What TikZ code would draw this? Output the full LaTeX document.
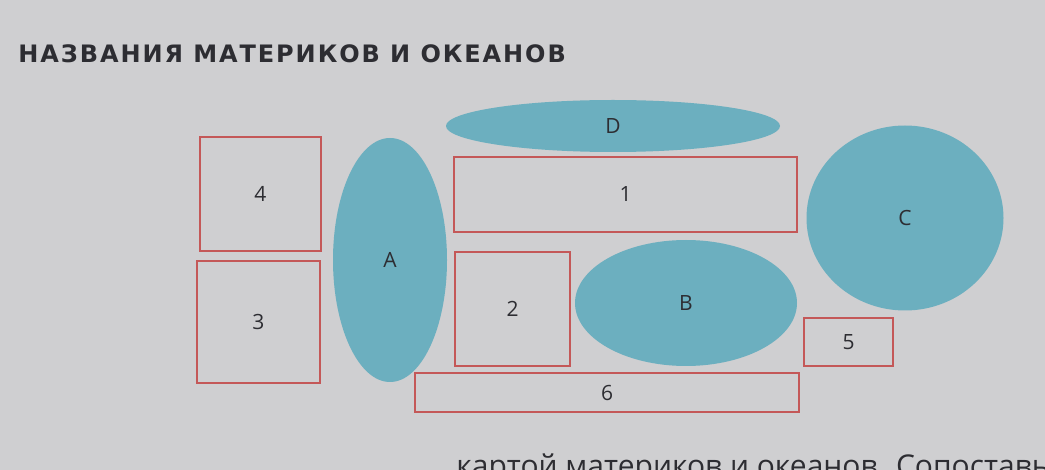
\documentclass[tikz,border=0pt]{standalone}
\usepackage{fontspec}
\setmainfont{Open Sans}
\newfontfamily\headfont[LetterSpace=8]{DejaVu Sans}
\usepackage{xcolor}
\usetikzlibrary{shapes.geometric}
\definecolor{paperGray}{RGB}{207,207,209}
\definecolor{seaBlue}{RGB}{108,175,191}
\definecolor{landRed}{RGB}{196,88,88}
\definecolor{inkText}{RGB}{45,45,50}

\begin{document}
\begin{tikzpicture}[x=0.5pt,y=-0.5pt,
    land/.style={draw=landRed,line width=0.6pt,inner sep=0pt,font=\fontsize{10.5}{12}\selectfont,text=inkText},
    sea/.style={ellipse,fill=seaBlue,inner sep=0pt,font=\fontsize{10.5}{12}\selectfont,text=inkText}]
  \newcommand{\landbox}[6]{%
    \node[land,minimum width=#4*0.5pt,minimum height=#5*0.5pt] (#1) at (#2,#3) {#6};}
  \newcommand{\seablob}[6]{%
    \node[sea,minimum width=#4*0.5pt,minimum height=#5*0.5pt] (#1) at (#2,#3) {#6};}
  % page
  \fill[paperGray] (0,0) rectangle (1045,470);
  \useasboundingbox (0,0) rectangle (1045,470);
  \clip (0,0) rectangle (1045,470);
  \node[anchor=base west,inner sep=0pt,text=inkText,font=\headfont\bfseries\fontsize{12}{14}\selectfont]
    (title) at (18,63) {НАЗВАНИЯ МАТЕРИКОВ И ОКЕАНОВ};
  % oceans
  \seablob{oceanA}{390}{260}{114}{244}{A}
  \seablob{oceanD}{613}{126}{334}{52}{D}
  \seablob{oceanB}{686}{303}{222}{126}{B}
  \seablob{oceanC}{905}{218}{197}{185}{C}
  % continents
  \landbox{land4}{260.5}{194}{121}{114}{4}
  \landbox{land3}{258.5}{322}{123}{122}{3}
  \landbox{land1}{625.5}{194.5}{343}{75}{1}
  \landbox{land2}{512.5}{309}{115}{114}{2}
  \landbox{land6}{607}{392.5}{384}{39}{6}
  \landbox{land5}{848.5}{342}{89}{48}{5}
  % cut-off line of the page
  \node[anchor=base east,inner sep=0pt,text=inkText,font=\fontsize{15}{17}\selectfont]
    (nextline) at (1050,476) {картой материков и океанов. Сопоставь};
\end{tikzpicture}
\end{document}
